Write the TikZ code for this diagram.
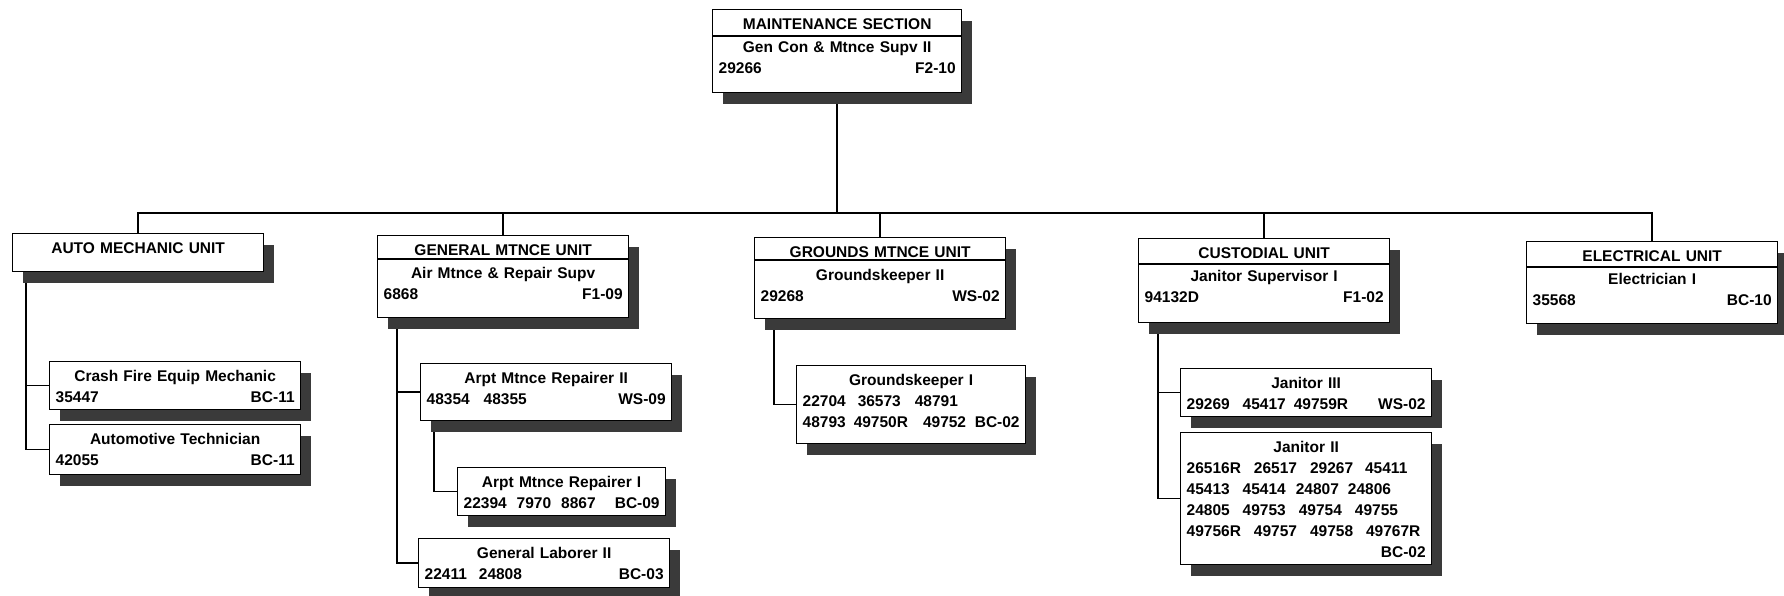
\documentclass[tikz,border=0pt]{standalone}
\usepackage{fontspec}
\setmainfont{Liberation Sans}
\usetikzlibrary{shadows,backgrounds}
\definecolor{shade}{HTML}{3A3A3A}
\newcommand{\numgap}{\hspace{13pt}}

\begin{document}
\begin{tikzpicture}[x=1pt,y=-1pt,
  box/.style={draw,line width=1.3pt,fill=white,anchor=north west,
    inner xsep=6pt,inner ysep=0pt,text height=20pt,align=center,
    font=\fontsize{15.5}{21}\selectfont\bfseries,
    drop shadow={shadow xshift=10pt,shadow yshift=-11pt,fill=shade,opacity=1}},
  wide/.style={box,text width=239pt},
  link/.style={line width=1.5pt}]
\useasboundingbox (0,0) rectangle (1784,596);

\node[box,text width=237pt,text depth=63pt] (sect) at (712,9)
  {MAINTENANCE SECTION\\[2pt]Gen Con \& Mtnce Supv II\\29266\hfill F2-10};

\node[wide,text depth=18pt] (auto) at (12,233) {AUTO MECHANIC UNIT};
\node[wide,text depth=62pt] (gen) at (377,235)
  {GENERAL MTNCE UNIT\\[2pt]Air Mtnce \& Repair Supv\\6868\hfill F1-09};
\node[wide,text depth=61pt] (grounds) at (754,237)
  {GROUNDS MTNCE UNIT\\[2pt]Groundskeeper II\\29268\hfill WS-02};
\node[wide,text depth=64pt] (cust) at (1138,238)
  {CUSTODIAL UNIT\\[2pt]Janitor Supervisor I\\94132D\hfill F1-02};
\node[wide,text depth=62pt] (elec) at (1526,241)
  {ELECTRICAL UNIT\\[2pt]Electrician I\\35568\hfill BC-10};

\node[wide,text depth=28pt] (crash) at (49,361)
  {Crash Fire Equip Mechanic\\35447\hfill BC-11};
\node[wide,text depth=30pt] (autotech) at (49,424)
  {Automotive Technician\\42055\hfill BC-11};

\node[wide,text depth=37pt] (arpt2) at (420,363)
  {Arpt Mtnce Repairer II\\48354\hspace{14pt}48355\hfill WS-09};
\node[box,text width=196pt,text depth=28pt] (arpt1) at (457,467)
  {Arpt Mtnce Repairer I\\22394\hspace{10pt}7970\hspace{10pt}8867\hfill BC-09};
\node[wide,text depth=29pt] (genlab) at (418,538)
  {General Laborer II\\22411\hspace{12pt}24808\hfill BC-03};

\node[box,text width=217pt,text depth=58pt] (gk1) at (796,365)
  {Groundskeeper I\\22704\hspace{12pt}36573\hspace{14pt}48791\hfill\null\\
   48793\hspace{8pt}49750R\hspace{15pt}49752\hfill BC-02};

\node[wide,text depth=28pt] (jan3) at (1180,368)
  {Janitor III\\29269\hspace{13pt}45417\hspace{8pt}49759R\hfill WS-02};
\node[wide,text depth=112pt] (jan2) at (1180,432)
  {Janitor II\\
   26516R\numgap 26517\numgap 29267\hspace{12pt}45411\hfill\null\\
   45413\numgap 45414\hspace{10pt}24807\hspace{9pt}24806\hfill\null\\
   24805\numgap 49753\numgap 49754\numgap 49755\hfill\null\\
   49756R\numgap 49757\numgap 49758\numgap 49767R\hfill\null\\
   \hfill BC-02};

\foreach \b/\off in {sect/-27pt,gen/-24pt,grounds/-23pt,cust/-26pt,elec/-26pt}
  \draw[line width=1.1pt] ([yshift=\off]\b.north west) -- ([yshift=\off]\b.north east);

\begin{scope}[on background layer]
\coordinate (bus) at (sect.south |- 0,213);
\draw[link] (sect.south) -- (bus);
\foreach \u in {auto,gen,grounds,cust,elec}
  \draw[link] (bus) -| (\u.north);
\draw[link] ([xshift=14pt]auto.south west) |- (crash.west);
\draw[link] ([xshift=14pt]auto.south west) |- (autotech.west);
\draw[link] ([xshift=20pt]gen.south west) |- (arpt2.west);
\draw[link] ([xshift=20pt]gen.south west) |- (genlab.west);
\draw[link] ([xshift=14pt]arpt2.south west) |- (arpt1.west);
\draw[link] ([xshift=20pt]grounds.south west) |- (gk1.west);
\draw[link] ([xshift=20pt]cust.south west) |- (jan3.west);
\draw[link] ([xshift=20pt]cust.south west) |- (jan2.west);
\end{scope}
\end{tikzpicture}
\end{document}
